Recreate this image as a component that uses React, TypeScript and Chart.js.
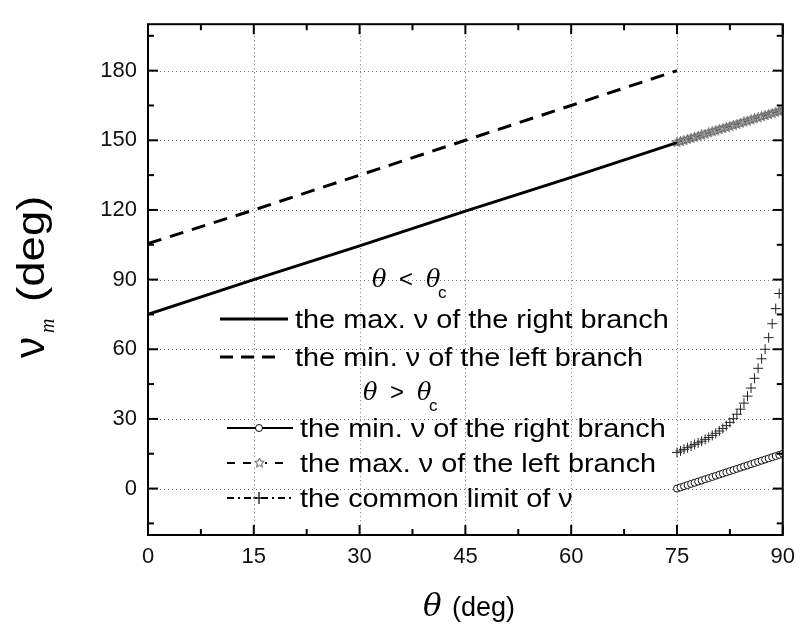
import React, { useEffect, useRef } from 'react';
import { Chart, registerables } from 'chart.js';

Chart.register(...registerables);

// ---- data ----
const thetaLow = [0, 15, 30, 45, 60, 75];
const maxRightLow = [75, 90, 104.5, 119.5, 134, 149];
const minLeftLow = [105.5, 120, 135, 150, 165, 180];

const thetaHigh = [75, 75.5, 76, 76.5, 77, 77.5, 78, 78.5, 79, 79.5, 80, 80.5, 81, 81.5, 82, 82.5, 83, 83.5, 84, 84.5, 85, 85.5, 86, 86.5, 87, 87.5, 88, 88.5, 89, 89.5, 90];
const minRightHigh = [0, 0.5, 1, 1.5, 2, 2.5, 3, 3.5, 4, 4.5, 5, 5.5, 6, 6.5, 7, 7.5, 8, 8.5, 9, 9.5, 10, 10.5, 11, 11.5, 12, 12.5, 13, 13.5, 14, 14.5, 15];
const maxLeftHigh = [149.0, 149.5, 149.9, 150.4, 150.9, 151.3, 151.8, 152.3, 152.7, 153.2, 153.7, 154.1, 154.6, 155.1, 155.5, 156.0, 156.5, 156.9, 157.4, 157.9, 158.3, 158.8, 159.3, 159.7, 160.2, 160.7, 161.1, 161.6, 162.1, 162.5, 163.0];

const thetaLimit = [75, 75.5, 76, 76.5, 77, 77.5, 78, 78.5, 79, 79.5, 80, 80.5, 81, 81.5, 82, 82.5, 83, 83.5, 84, 84.5, 85, 85.5, 86, 86.5, 87, 87.5, 88, 88.5, 89, 89.5];
const commonLimit = [15.5, 16.2, 16.9, 17.6, 18.3, 19.0, 19.7, 20.4, 21.2, 22.0, 22.9, 23.8, 24.8, 25.9, 27.1, 28.5, 30.1, 32.0, 34.2, 36.8, 39.8, 43.3, 47.5, 51.8, 55.9, 60.0, 65.0, 71.0, 77.5, 84.0];

const xTicks = [0, 15, 30, 45, 60, 75, 90];
const xMinorTicks = [7.5, 22.5, 37.5, 52.5, 67.5, 82.5];
const yTicks = [0, 30, 60, 90, 120, 150, 180];
const yMinorTicks = [-15, 15, 45, 75, 105, 135, 165, 195];

const legendRows = [
  'the max. \u03bd of the right branch',
  'the min. \u03bd of the left branch',
  'the min. \u03bd of the right branch',
  'the max. \u03bd of the left branch',
  'the common limit of \u03bd',
];

const SANS = '"Liberation Sans", Arial, sans-serif';
const SERIF = '"DejaVu Serif", "Liberation Serif", serif';

function makeStar(): HTMLCanvasElement {
  const c = document.createElement('canvas');
  c.width = 11;
  c.height = 11;
  const g = c.getContext('2d')!;
  g.strokeStyle = '#555';
  g.lineWidth = 1;
  g.beginPath();
  for (let k = 0; k < 10; k++) {
    const r = k % 2 === 0 ? 5 : 2.2;
    const a = -Math.PI / 2 + (k * Math.PI) / 5;
    const px = 5.5 + r * Math.cos(a);
    const py = 5.5 + r * Math.sin(a);
    if (k === 0) g.moveTo(px, py);
    else g.lineTo(px, py);
  }
  g.closePath();
  g.stroke();
  return c;
}

export default function App() {
  const ref = useRef<HTMLCanvasElement>(null);

  useEffect(() => {
    const canvas = ref.current!;
    const starImg = makeStar();

    const overlay = {
      id: 'overlay',
      beforeDatasetsDraw(chart: any) {
        const { ctx, chartArea: a, scales } = chart;
        const xs = scales.x, ys = scales.y;
        ctx.save();
        ctx.strokeStyle = '#777';
        ctx.lineWidth = 1;
        ctx.setLineDash([1, 3]);
        for (const v of xTicks) {
          if (v === xTicks[0] || v === xTicks[xTicks.length - 1]) continue;
          const px = Math.round(xs.getPixelForValue(v)) + 0.5;
          ctx.beginPath();
          ctx.moveTo(px, a.top);
          ctx.lineTo(px, a.bottom);
          ctx.stroke();
        }
        for (const v of yTicks) {
          const py = Math.round(ys.getPixelForValue(v)) + 0.5;
          ctx.beginPath();
          ctx.moveTo(a.left, py);
          ctx.lineTo(a.right, py);
          ctx.stroke();
        }
        ctx.restore();
      },
      afterDraw(chart: any) {
        const { ctx, chartArea: a, scales } = chart;
        const xs = scales.x, ys = scales.y;
        ctx.save();
        // frame
        ctx.strokeStyle = '#000';
        ctx.lineWidth = 2;
        ctx.strokeRect(a.left, a.top, a.right - a.left, a.bottom - a.top);
        // inward ticks
        const tick = (x1: number, y1: number, x2: number, y2: number) => {
          ctx.beginPath();
          ctx.moveTo(x1, y1);
          ctx.lineTo(x2, y2);
          ctx.stroke();
        };
        for (const v of xTicks) {
          const px = xs.getPixelForValue(v);
          tick(px, a.bottom, px, a.bottom - 10);
          tick(px, a.top, px, a.top + 10);
        }
        for (const v of xMinorTicks) {
          const px = xs.getPixelForValue(v);
          tick(px, a.bottom, px, a.bottom - 6);
          tick(px, a.top, px, a.top + 6);
        }
        for (const v of yTicks) {
          const py = ys.getPixelForValue(v);
          tick(a.left, py, a.left + 10, py);
          tick(a.right, py, a.right - 10, py);
        }
        for (const v of yMinorTicks) {
          const py = ys.getPixelForValue(v);
          tick(a.left, py, a.left + 6, py);
          tick(a.right, py, a.right - 6, py);
        }

        ctx.fillStyle = '#000';
        ctx.textBaseline = 'alphabetic';
        ctx.textAlign = 'left';

        // x title
        ctx.font = `italic 31px ${SERIF}`;
        ctx.fillText('\u03b8', 423, 616);
        ctx.font = `27px ${SANS}`;
        ctx.fillText('(deg)', 452, 616);

        // y title (rotated)
        ctx.save();
        ctx.translate(44, 358);
        ctx.rotate(-Math.PI / 2);
        ctx.font = `42px ${SANS}`;
        ctx.fillText('\u03bd', 0, 0);
        ctx.font = `italic 20px "Liberation Serif", serif`;
        ctx.fillText('m', 25, 10);
        ctx.save();
        ctx.scale(1.2, 1);
        ctx.font = `38px ${SANS}`;
        ctx.fillText('(deg)', 56 / 1.2, 0);
        ctx.restore();
        ctx.restore();

        // legend headers
        const header = (x: number, base: number, rel: string) => {
          ctx.font = `italic 24px ${SERIF}`;
          ctx.fillText('\u03b8', x, base);
          ctx.font = `24px ${SANS}`;
          ctx.fillText(rel, x + 27, base);
          ctx.font = `italic 24px ${SERIF}`;
          ctx.fillText('\u03b8', x + 54, base);
          ctx.font = `17px ${SANS}`;
          ctx.fillText('c', x + 66, base + 11);
        };
        header(372, 287, '<');
        header(363, 400, '>');

        // legend rows
        const lineY = [319, 357, 428, 463, 498];
        const textX = [295, 295, 300, 300, 300];
        ctx.strokeStyle = '#000';
        // row 1 solid
        ctx.lineWidth = 3;
        ctx.setLineDash([]);
        tick(220, lineY[0], 288, lineY[0]);
        // row 2 dashed
        ctx.setLineDash([13, 8]);
        tick(220, lineY[1], 278, lineY[1]);
        // row 3 solid + circle
        ctx.setLineDash([]);
        ctx.lineWidth = 2;
        tick(227, lineY[2], 293, lineY[2]);
        ctx.lineWidth = 1;
        ctx.fillStyle = '#fff';
        ctx.beginPath();
        ctx.arc(259, lineY[2], 3.5, 0, Math.PI * 2);
        ctx.fill();
        ctx.stroke();
        // row 4 dashed + star
        ctx.lineWidth = 2;
        ctx.setLineDash([8, 8]);
        tick(227, lineY[3], 290, lineY[3]);
        ctx.setLineDash([]);
        ctx.fillStyle = '#fff';
        ctx.fillRect(254, lineY[3] - 5, 11, 10);
        ctx.drawImage(starImg, 254, lineY[3] - 5.5);
        // row 5 dash-dot + plus
        ctx.lineWidth = 2;
        ctx.setLineDash([7, 4, 2, 4]);
        tick(227, lineY[4], 293, lineY[4]);
        ctx.setLineDash([]);
        ctx.lineWidth = 1.2;
        tick(253, lineY[4], 265, lineY[4]);
        tick(259, lineY[4] - 6, 259, lineY[4] + 6);

        ctx.fillStyle = '#000';
        ctx.font = `26px ${SANS}`;
        legendRows.forEach((t, i) => {
          ctx.save();
          ctx.translate(textX[i], lineY[i] + 9);
          ctx.scale(1.11, 1);
          ctx.fillText(t, 0, 0);
          ctx.restore();
        });
        ctx.restore();
      },
    };

    const chart = new Chart(canvas, {
      type: 'scatter',
      data: {
        datasets: [
          {
            label: legendRows[0],
            data: thetaLow.map((x, i) => ({ x, y: maxRightLow[i] })),
            showLine: true,
            borderColor: '#000',
            borderWidth: 3,
            pointRadius: 0,
          },
          {
            label: legendRows[1],
            data: thetaLow.map((x, i) => ({ x, y: minLeftLow[i] })),
            showLine: true,
            borderColor: '#000',
            borderWidth: 3,
            borderDash: [14, 9],
            pointRadius: 0,
          },
          {
            label: legendRows[2],
            data: thetaHigh.map((x, i) => ({ x, y: minRightHigh[i] })),
            showLine: true,
            borderColor: '#000',
            borderWidth: 1,
            pointStyle: 'circle',
            pointRadius: 3.5,
            pointBorderWidth: 1,
            pointBorderColor: '#111',
            pointBackgroundColor: '#fff',
          },
          {
            label: legendRows[3],
            data: thetaHigh.map((x, i) => ({ x, y: maxLeftHigh[i] })),
            showLine: true,
            borderColor: '#555',
            borderWidth: 1,
            borderDash: [6, 4],
            pointStyle: starImg as any,
            pointRadius: 5,
          },
          {
            label: legendRows[4],
            data: thetaLimit.map((x, i) => ({ x, y: commonLimit[i] })),
            showLine: false,
            pointStyle: 'cross',
            pointRadius: 5,
            pointBorderWidth: 1,
            pointBorderColor: '#222',
            borderColor: '#222',
          },
        ],
      },
      options: {
        animation: false,
        responsive: false,
        devicePixelRatio: 1,
        layout: { padding: { left: 0, top: 9, right: 11, bottom: 0 } },
        plugins: { legend: { display: false }, tooltip: { enabled: false }, title: { display: false } },
        scales: {
          x: {
            type: 'linear',
            min: 0,
            max: 90,
            afterBuildTicks: (s: any) => {
              s.ticks = xTicks.map((v) => ({ value: v }));
            },
            afterFit: (s: any) => {
              s.height = 89;
            },
            ticks: {
              font: { family: SANS, size: 22 },
              color: '#111',
              padding: 9,
              maxRotation: 0,
              autoSkip: false,
            },
            grid: { display: false, drawTicks: false },
            border: { display: false },
          },
          y: {
            type: 'linear',
            min: -20,
            max: 200,
            afterBuildTicks: (s: any) => {
              s.ticks = yTicks.map((v) => ({ value: v }));
            },
            afterFit: (s: any) => {
              s.width = 148;
            },
            ticks: {
              font: { family: SANS, size: 22 },
              color: '#111',
              padding: 11,
              autoSkip: false,
            },
            grid: { display: false, drawTicks: false },
            border: { display: false },
          },
        },
      },
      plugins: [overlay],
    });

    return () => chart.destroy();
  }, []);

  return (
    <div style={{ position: 'absolute', left: 0, top: 0, width: 804, height: 624, background: '#fff' }}>
      <canvas ref={ref} width={804} height={624} style={{ display: 'block' }} />
    </div>
  );
}
